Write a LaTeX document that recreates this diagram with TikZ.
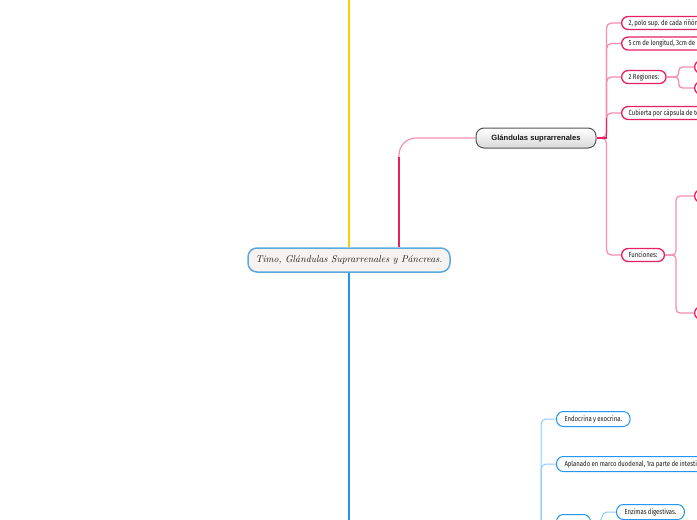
\documentclass[tikz,border=0pt]{standalone}
\usepackage{fontspec}
\newfontfamily\cond[FakeStretch=0.82,WordSpace=0.85]{Fira Sans}
\newfontfamily\boldsans{Liberation Sans}
\usetikzlibrary{calc}
\definecolor{cblue}{HTML}{5DA9DD}
\definecolor{cfill}{HTML}{F5F2F0}
\definecolor{ggray}{HTML}{555555}
\definecolor{pk}{HTML}{E91E63}
\definecolor{pklight}{HTML}{F48FB1}
\definecolor{bl}{HTML}{2196F3}
\definecolor{bllight}{HTML}{90CAF9}
\definecolor{yl}{HTML}{FFCB05}
\definecolor{txt}{HTML}{1A1A1A}
\newcommand{\longlabel}[2]{\makebox[#1][l]{#2}}
\tikzset{
  central/.style={draw=cblue, line width=1.5pt, fill=cfill, rounded corners=9pt,
    minimum width=202pt, minimum height=24pt, text=txt,
    font=\itshape\fontsize{9.8}{11}\selectfont},
  glnode/.style={draw=ggray, line width=1pt, top color=white, bottom color=black!15,
    rounded corners=8pt, minimum width=120pt, minimum height=20pt, text=black!90,
    font=\boldsans\bfseries\fontsize{7.6}{8}\selectfont},
  pinknode/.style={draw=pk, line width=1.3pt, fill=white, rounded corners=6.5pt,
    minimum height=13pt, inner xsep=7pt, inner ysep=1pt, anchor=west, text=txt,
    font=\cond\fontsize{7.3}{7.8}\selectfont},
  bluenode/.style={draw=bl, line width=1pt, fill=white, rounded corners=7pt,
    minimum height=15pt, inner xsep=8pt, inner ysep=1pt, anchor=west, text=txt,
    font=\cond\fontsize{7.3}{7.8}\selectfont},
  pkline/.style={draw=pklight, line width=1.3pt},
  blline/.style={draw=bllight, line width=1pt}
}
\begin{document}
\begin{tikzpicture}[x=1pt,y=-1pt]
\useasboundingbox (0,0) rectangle (697,520);
\clip (0,0) rectangle (697,520);
\fill[white] (0,0) rectangle (697,520);

% coordinates for free ends
\coordinate (ytop) at (349,-5);
\coordinate (bbot) at (349,525);
\coordinate (bt) at (541,530);

% central node
\node[central] (c) at (349,260) {Timo, Glándulas Suprarrenales y Páncreas.};

% main branches
\draw[yl, line width=2.5pt] (c.north) -- (ytop);
\draw[bl, line width=2.5pt] (c.south) -- (bbot);

% Glandulas suprarrenales
\node[glnode] (g) at (536,138) {Glándulas suprarrenales};
\draw[pkline, line width=1.2pt, rounded corners=17pt] ($(c.north)+(50,0)$) |- (g.west);
\draw[pk, line width=2.5pt] ($(c.north)+(50,0)$) -- ++(0,-90);

% pink children
\node[pinknode] (p1) at (621,23) {\longlabel{100pt}{2, polo sup. de cada riñón}};
\node[pinknode] (p2) at (621,43.5) {\longlabel{100pt}{5 cm de longitud, 3cm de}};
\node[pinknode] (p3) at (621,77) {2 Regiones:};
\node[pinknode] (p4) at (621,113) {\longlabel{100pt}{Cubierta por cápsula de te}};
\node[pinknode] (p5) at (621,255) {Funciones:};

\foreach \n in {p1,p2,p3,p4,p5}
  \draw[pkline, rounded corners=5pt] (g.east) -- ++(10,0) |- (\n.west);
\draw[pk, line width=1.5pt] (g.east) -- ++(10,0) -- ++(0,-20);

% sub nodes (cut at right edge)
\node[pinknode, minimum width=30pt] (r1) at (694,67) {};
\node[pinknode, minimum width=30pt] (r2) at (694,88) {};
\node[pinknode, minimum width=30pt] (f1) at (694,196) {};
\node[pinknode, minimum width=30pt] (f2) at (694,313) {};
\foreach \n in {r1,r2}
  \draw[pkline, rounded corners=4pt] (p3.east) -- ++(12,0) |- (\n.west);
\foreach \n in {f1,f2}
  \draw[pkline, rounded corners=4pt] (p5.east) -- ++(11,0) |- (\n.west);

% blue children
\node[bluenode] (b1) at (556,419) {Endocrina y exocrina.};
\node[bluenode] (b2) at (556,464) {\longlabel{160pt}{Aplanado en marco duodenal, 1ra parte de intestin}};
\node[bluenode, minimum width=34pt] (b3) at (556,522) {};
\node[bluenode] (b4) at (616,512) {Enzimas digestivas.};
\foreach \n in {b1,b2,b3}
  \draw[blline, rounded corners=5pt] (bt) |- (\n.west);
\draw[blline, rounded corners=5pt] (b3.east) -- ++(11,0) |- (b4.west);
\end{tikzpicture}
\end{document}
